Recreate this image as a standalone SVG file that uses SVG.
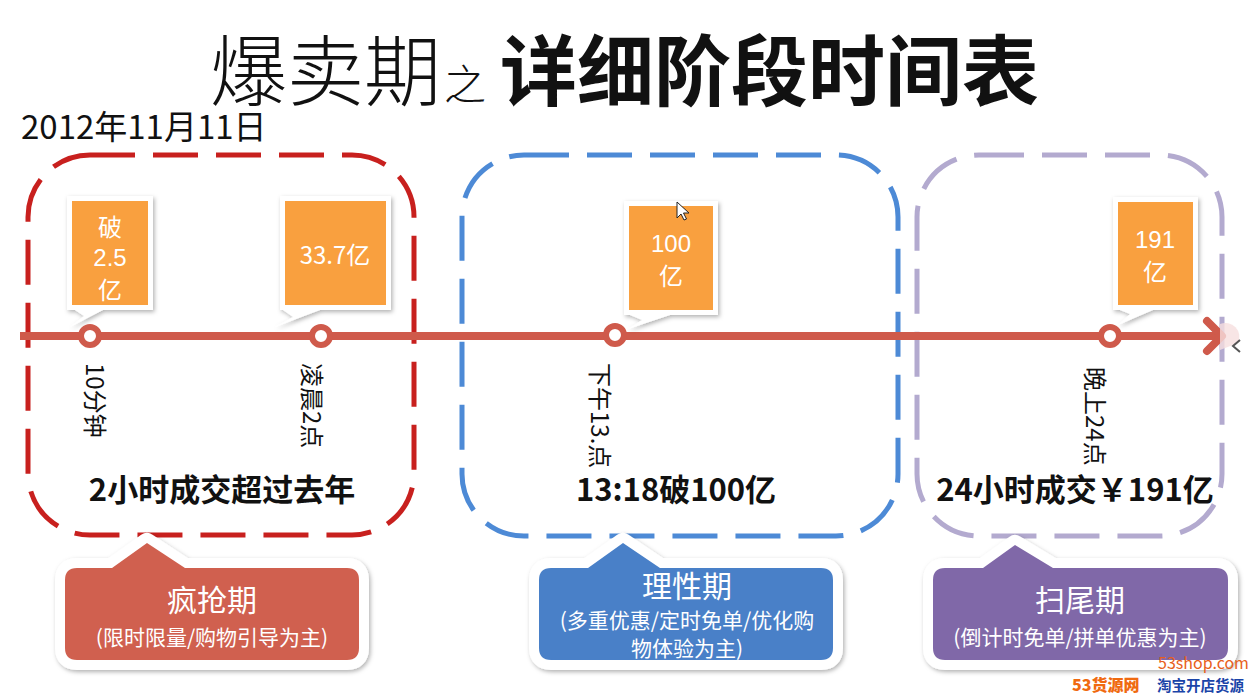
<svg xmlns="http://www.w3.org/2000/svg" width="1255" height="700" viewBox="0 0 1255 700">
<defs>
<filter id="sh" x="-20%" y="-20%" width="140%" height="140%">
<feDropShadow dx="1.5" dy="2" stdDeviation="2" flood-color="#000" flood-opacity="0.3"/>
</filter>
<style>
text{font-family:"Noto Sans CJK SC","Liberation Sans",sans-serif}
.frame{fill:#fff;filter:url(#sh)}
.org{fill:#f9a03f}
.wt{fill:#fff;font-size:24px;text-anchor:middle}
.wd{fill:#fff;font-size:24px;text-anchor:middle;font-family:"Liberation Sans","Noto Sans CJK SC",sans-serif}
.vt{fill:#111;font-size:24px}
.bt{fill:#111;font-size:31px;font-weight:700;text-anchor:middle}
.dash{fill:none;stroke-width:5;stroke-dasharray:45 18}
.phase{stroke:#fff;stroke-width:20;stroke-linejoin:round;paint-order:stroke;filter:url(#sh)}
.pt{fill:#fff;font-size:30px;text-anchor:middle}
.ps{fill:#fff;font-size:21px;text-anchor:middle}
.mk{fill:#fff;stroke:#cf5a4b;stroke-width:6}
</style>
</defs>
<rect width="1255" height="700" fill="#fff"/>

<g id="title">
<text x="210" y="100" font-size="77" font-weight="300" fill="#111">爆卖期</text>
<text x="444" y="100" font-size="42" font-weight="300" fill="#111">之</text>
<text x="500" y="100" font-size="77" font-weight="700" fill="#111">详细阶段时间表</text>
</g>
<g id="date">
<text x="21" y="139" font-size="33" fill="#111">2012年11月11日</text>
</g>

<g id="group-frenzy-box"><rect class="dash" x="28" y="155" width="386" height="380" rx="62" stroke="#c8201e"/></g>
<g id="group-rational-box"><rect class="dash" x="462" y="155" width="436" height="381" rx="62" stroke="#4d8ad6"/></g>
<g id="group-ending-box"><rect class="dash" x="917" y="155" width="305" height="381" rx="62" stroke="#b3aacf"/></g>

<g id="connectors">
<line x1="20" y1="336" x2="1220" y2="336" stroke="#cf5a4b" stroke-width="8"/>
<polyline points="1207,321 1222,336 1207,351" fill="none" stroke="#cf5a4b" stroke-width="8" stroke-linecap="round" stroke-linejoin="round"/>
</g>
<path d="M1220,324 A14,14 0 0 1 1238,343 L1220,350 Z" fill="#f6dede" opacity="0.8"/>
<polyline points="1240,340 1233,346 1240,352" fill="none" stroke="#555" stroke-width="2"/>

<g id="marker-10min">
<path class="frame" d="M67,196 H153 V310 H103 L70,327 L84,316 L75,310 H67 Z"/>
<rect class="org" x="72" y="201" width="76" height="104"/>
<text class="wt" x="110" y="236">破</text>
<text class="wd" x="110" y="266">2.5</text>
<text class="wt" x="110" y="299">亿</text>
<circle class="mk" cx="90" cy="336" r="9"/>
<text class="vt" transform="translate(86,363) rotate(90)">10分钟</text>
</g>

<g id="marker-2am">
<path class="frame" d="M280,196 H391 V310 H320 L275,327 L293,317 L283,310 H280 Z"/>
<rect class="org" x="285" y="201" width="101" height="104"/>
<text class="wt" x="335" y="264" font-size="25">33.7亿</text>
<circle class="mk" cx="321" cy="336" r="9"/>
<text class="vt" transform="translate(303,363) rotate(90)">凌晨2点</text>
</g>

<g id="marker-13h">
<path class="frame" d="M624,201 H718 V315 H670 L628,329 L642,320 L630,315 H624 Z"/>
<rect class="org" x="629" y="206" width="84" height="104"/>
<text class="wd" x="671" y="252">100</text>
<text class="wt" x="671" y="285">亿</text>
<circle class="mk" cx="615" cy="335" r="9"/>
<text class="vt" transform="translate(591,363) rotate(90)">下午13.点</text>
</g>

<g id="marker-24h">
<path class="frame" d="M1113,197 H1198 V310 H1153 L1118,325 L1130,314 L1120,310 H1113 Z"/>
<rect class="org" x="1118" y="202" width="75" height="103"/>
<text class="wd" x="1155" y="248">191</text>
<text class="wt" x="1155" y="281">亿</text>
<circle class="mk" cx="1110" cy="336" r="9"/>
<text class="vt" transform="translate(1086,367) rotate(90)">晚上24点</text>
</g>

<g id="summary-texts">
<text class="bt" x="222" y="501">2小时成交超过去年</text>
<text class="bt" x="676" y="501">13:18破100亿</text>
<text class="bt" x="1075" y="501">24小时成交￥191亿</text>
</g>

<g id="phase-frenzy">
<path class="phase" fill="#d0604f" d="M77,568 H112 L147,543 L185,568 H347 Q359,568 359,580 V648 Q359,660 347,660 H77 Q65,660 65,648 V580 Q65,568 77,568 Z"/>
<text class="pt" x="212" y="611">疯抢期</text>
<text class="ps" x="212" y="645">(限时限量/购物引导为主)</text>
</g>

<g id="phase-rational">
<path class="phase" fill="#4a80c8" d="M551,568 H588 L623,543 L660,568 H821 Q833,568 833,580 V648 Q833,660 821,660 H551 Q539,660 539,648 V580 Q539,568 551,568 Z"/>
<text class="pt" x="687" y="597" font-size="29">理性期</text>
<text class="ps" x="687" y="628" font-size="19">(多重优惠/定时免单/优化购</text>
<text class="ps" x="687" y="656" font-size="19">物体验为主)</text>
</g>

<g id="phase-ending">
<path class="phase" fill="#8068a8" d="M945,568 H983 L1015,545 L1053,568 H1216 Q1228,568 1228,580 V648 Q1228,660 1216,660 H945 Q933,660 933,648 V580 Q933,568 945,568 Z"/>
<text class="pt" x="1080" y="611">扫尾期</text>
<text class="ps" x="1080" y="645">(倒计时免单/拼单优惠为主)</text>
</g>

<path d="M677,202 L677,218 L681,214 L684,220 L686.5,219 L683.5,213 L689,213 Z" fill="#fff" stroke="#222" stroke-width="1"/>

<g id="watermark">
<text x="1158" y="669" font-family="Liberation Sans,sans-serif" font-size="16" fill="#e8601a">53shop.com</text>
<text x="1072" y="691" font-size="16" font-weight="900" fill="#f06a10">53货源网</text>
<text x="1157" y="691" font-size="14.5" font-weight="700" fill="#1a44a8">淘宝开店货源</text>
</g>
</svg>
